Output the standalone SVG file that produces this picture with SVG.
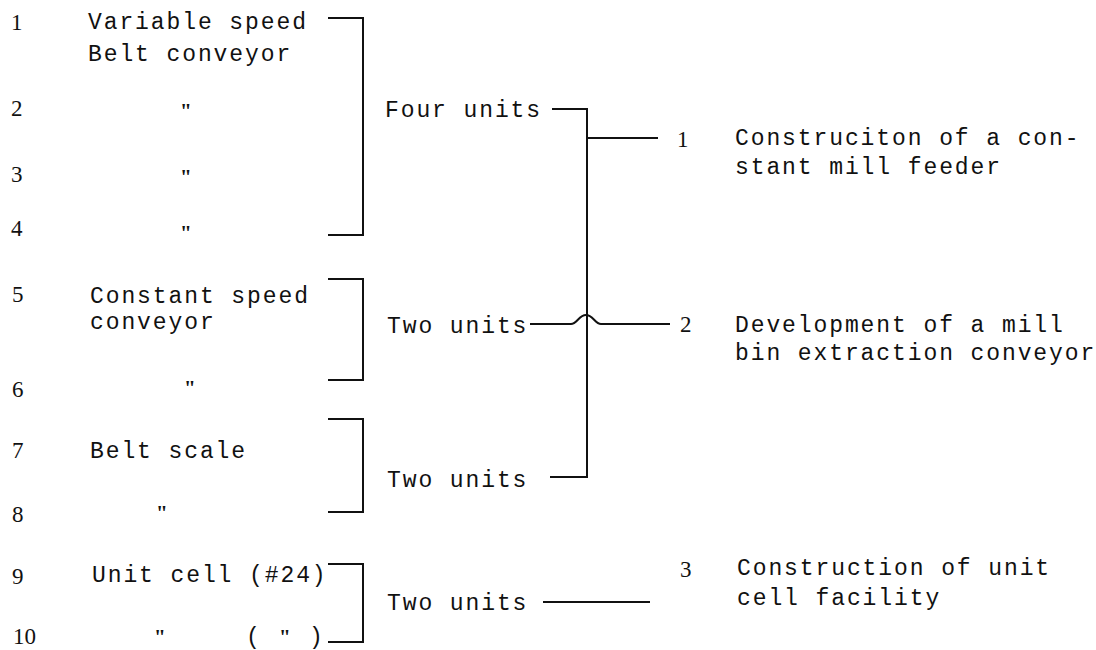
<svg xmlns="http://www.w3.org/2000/svg" width="1096" height="650" viewBox="0 0 1096 650">
<style>
.t{font-family:"Liberation Mono",monospace;font-size:23px;letter-spacing:1.9px;fill:#111}
.n{font-family:"Liberation Serif",serif;font-size:23px;fill:#111}
.d{font-family:"Liberation Serif",serif;font-size:21px;font-weight:bold;fill:#111}
.ln{fill:none;stroke:#111;stroke-width:2}
</style>
<rect width="1096" height="650" fill="#fff"/>
<g id="items">
<g id="item1"><text class="n" x="11" y="30">1</text><text class="t" x="88" y="29">Variable speed</text><text class="t" x="88" y="61">Belt conveyor</text></g>
<g id="item2"><text class="n" x="11" y="116">2</text><text class="d" x="180" y="118">"</text></g>
<g id="item3"><text class="n" x="11" y="182">3</text><text class="d" x="180" y="184">"</text></g>
<g id="item4"><text class="n" x="11" y="236">4</text><text class="d" x="180" y="240">"</text></g>
<g id="item5"><text class="n" x="12" y="302">5</text><text class="t" x="90" y="303">Constant speed</text><text class="t" x="90" y="329">conveyor</text></g>
<g id="item6"><text class="n" x="12" y="397">6</text><text class="d" x="184" y="395">"</text></g>
<g id="item7"><text class="n" x="12" y="458">7</text><text class="t" x="90" y="458">Belt scale</text></g>
<g id="item8"><text class="n" x="12" y="522">8</text><text class="d" x="156" y="520">"</text></g>
<g id="item9"><text class="n" x="12" y="584">9</text><text class="t" x="92" y="582">Unit cell (#24)</text></g>
<g id="item10"><text class="n" x="13" y="644">10</text><text class="d" x="154" y="644">"</text><text class="t" x="246" y="644">(</text><text class="d" x="279" y="644">"</text><text class="t" x="309" y="644">)</text></g>
</g>
<g id="groups">
<g id="g1"><path class="ln" d="M328,18H363V235H328"/><text class="t" x="385" y="117">Four units</text></g>
<g id="g2"><path class="ln" d="M328,279H363V380H328"/><text class="t" x="387" y="333">Two units</text></g>
<g id="g3"><path class="ln" d="M328,419H363V512H328"/><text class="t" x="387" y="487">Two units</text></g>
<g id="g4"><path class="ln" d="M328,564H363V642H328"/><text class="t" x="387" y="610">Two units</text></g>
</g>
<g id="connectors">
<path class="ln" d="M552,109H587V477H550"/>
<path class="ln" d="M587,138H658"/>
<path class="ln" d="M530,324H571C577,324 579,315 586,315C593,315 595,324 601,324H670"/>
<path class="ln" d="M543,602H650"/>
</g>
<g id="outputs">
<g id="out1"><text class="n" x="677" y="147">1</text><text class="t" x="735" y="145">Construciton of a con-</text><text class="t" x="735" y="174">stant mill feeder</text></g>
<g id="out2"><text class="n" x="680" y="332">2</text><text class="t" x="735" y="332">Development of a mill</text><text class="t" x="735" y="360">bin extraction conveyor</text></g>
<g id="out3"><text class="n" x="680" y="577">3</text><text class="t" x="737" y="575">Construction of unit</text><text class="t" x="737" y="605">cell facility</text></g>
</g>
</svg>
